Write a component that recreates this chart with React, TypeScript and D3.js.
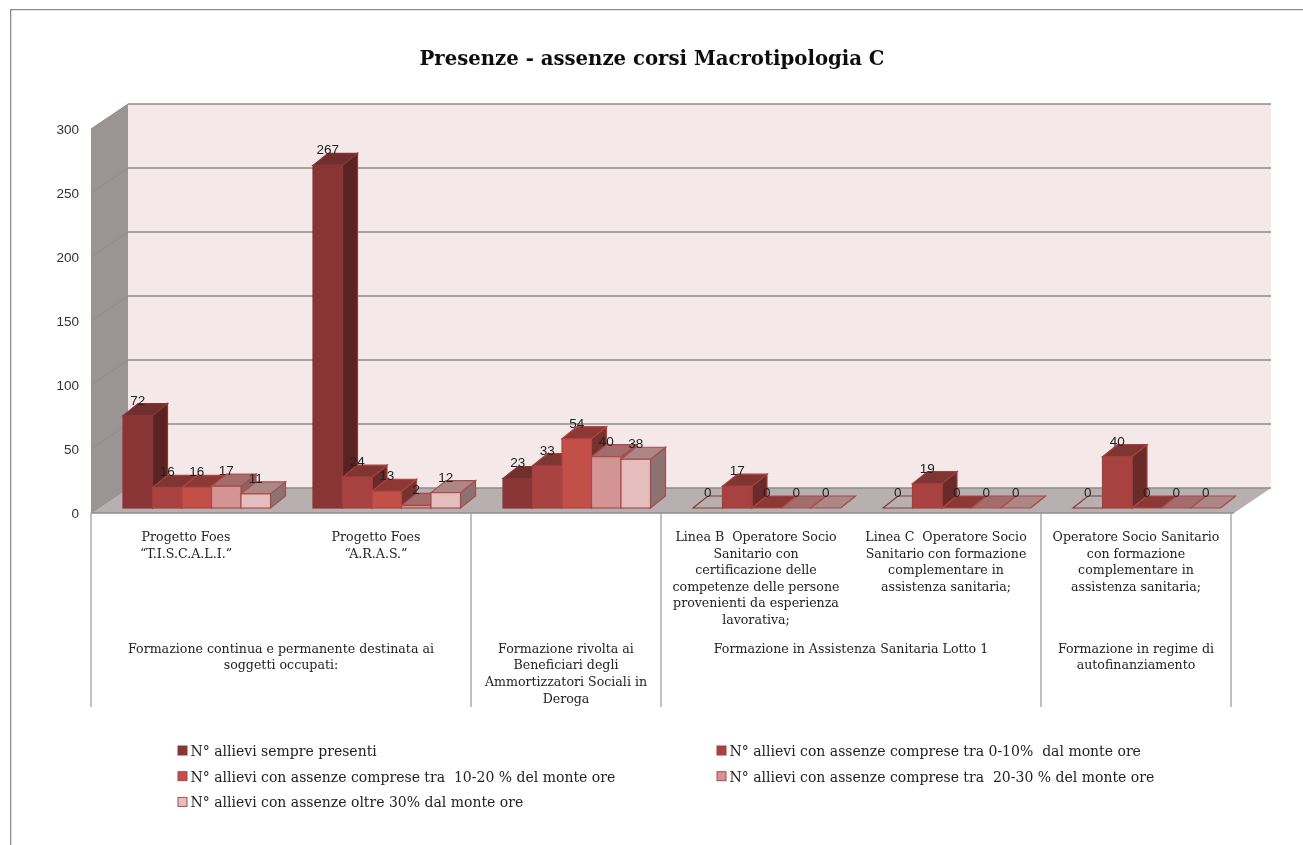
import React from "react";
import * as d3 from "d3";

const TITLE = "Presenze - assenze corsi Macrotipologia C";
const yTicks = [0, 50, 100, 150, 200, 250, 300];
const seriesNames = [
  "N° allievi sempre presenti",
  "N° allievi con assenze comprese tra 0-10%  dal monte ore",
  "N° allievi con assenze comprese tra  10-20 % del monte ore",
  "N° allievi con assenze comprese tra  20-30 % del monte ore",
  "N° allievi con assenze oltre 30% dal monte ore",
];
const series0 = [72, 267, 23, 0, 0, 0];
const series1 = [16, 24, 33, 17, 19, 40];
const series2 = [16, 13, 54, 0, 0, 0];
const series3 = [17, 2, 40, 0, 0, 0];
const series4 = [11, 12, 38, 0, 0, 0];
const allSeries = [series0, series1, series2, series3, series4];
const categoryLabels = [
  ["Progetto Foes", "“T.I.S.C.A.L.I.”"],
  ["Progetto Foes", "“A.R.A.S.”"],
  [],
  ["Linea B\u00a0\u00a0Operatore Socio", "Sanitario con", "certificazione delle", "competenze delle persone", "provenienti da esperienza", "lavorativa;"],
  ["Linea C\u00a0\u00a0Operatore Socio", "Sanitario con formazione", "complementare in", "assistenza sanitaria;"],
  ["Operatore Socio Sanitario", "con formazione", "complementare in", "assistenza sanitaria;"],
];
const groupSpans = [
  { start: 0, end: 2, lines: ["Formazione continua e permanente destinata ai", "soggetti occupati:"] },
  { start: 2, end: 3, lines: ["Formazione rivolta ai", "Beneficiari degli", "Ammortizzatori Sociali in", "Deroga"] },
  { start: 3, end: 5, lines: ["Formazione in Assistenza Sanitaria Lotto 1"] },
  { start: 5, end: 6, lines: ["Formazione in regime di", "autofinanziamento"] },
];
const frontColors = ["#8a3636", "#a84340", "#c34f4a", "#d49494", "#e6bdbd"];
const topColors = ["#702f2d", "#7f3431", "#8c3836", "#a56c6c", "#ad8686"];
const sideColors = ["#5a2422", "#6b2b29", "#76302d", "#8a6262", "#8c7272"];
const strokeColors = ["#8a3636", "#a33f3d", "#b04442", "#a84c4c", "#a84c4c"];

const SERIF = "'DejaVu Serif', serif";
const SANS = "'Liberation Sans', Arial, sans-serif";

export default function App() {
  const depthX = 37, depthY = 25;
  const barDX = 15, barDY = 12;
  const frontLeft = 91, frontRight = 1231;
  const yFront = d3.scaleLinear().domain([0, 300]).range([513, 129]);
  const yBar = d3.scaleLinear().domain([0, 300]).range([508, 123]);
  const x0 = d3.scaleBand<number>().domain(d3.range(6)).range([frontLeft, frontRight]);
  const x1 = d3.scaleBand<number>().domain(d3.range(5)).range([32, 179.5]);
  const pts = (p: number[][]) => p.map((q) => q.join(",")).join(" ");
  const wallL = frontLeft + depthX, wallR = 1271;
  const yTop = yFront(300) - depthY, yBot = yFront(0) - depthY;

  const bars = d3.range(6).flatMap((c) =>
    allSeries.map((s, i) => ({ c, i, v: s[c] }))
  );

  return (
    <svg width={1303} height={845} style={{ position: "absolute", left: 0, top: 0, display: "block" }}>
      <defs>
        <filter id="soft" x="0" y="0" width="100%" height="100%">
          <feGaussianBlur stdDeviation="0.45" />
        </filter>
      </defs>
      <rect width={1303} height={845} fill="#fff" />
      <g filter="url(#soft)">
        <path d={`M10.5,845V9.5H1303`} fill="none" stroke="#8c8c8c" strokeWidth={1.6} />
        <text x={652} y={65} textAnchor="middle" fontFamily={SERIF} fontWeight={700} fontSize={19.7} fill="#111">{TITLE}</text>

        <rect x={wallL} y={yTop} width={wallR - wallL} height={yBot - yTop} fill="#f4e8e8" />
        <polygon points={pts([[frontLeft, yFront(300)], [wallL, yTop], [wallL, yBot], [frontLeft, yFront(0)]])} fill="#9a9493" />
        <polygon points={pts([[frontLeft, yFront(0)], [wallL, yBot], [wallR, yBot], [frontRight + 3, yFront(0)]])} fill="#b8b0b0" />
        {yTicks.map((t) => (
          <g key={t}>
            <line x1={wallL} x2={wallR} y1={yFront(t) - depthY} y2={yFront(t) - depthY} stroke="#8f8c8c" strokeWidth={1.3} />
            <line x1={frontLeft} x2={wallL} y1={yFront(t)} y2={yFront(t) - depthY} stroke="#8f8c8c" strokeWidth={1} />
            <text x={79} y={yFront(t) + 5} textAnchor="end" fontFamily={SANS} fontSize={13.5} fill="#333">{t}</text>
          </g>
        ))}

        {bars.map(({ c, i, v }) => {
          const l = x0(c)! + x1(i)!, r = l + x1.bandwidth();
          const b = yBar(0), t = yBar(v);
          const stroke = strokeColors[i];
          return (
            <g key={`${c}-${i}`} stroke={stroke} strokeWidth={1.2}>
              <polygon points={pts([[r, b], [r + barDX, b - barDY], [r + barDX, t - barDY], [r, t]])} fill={sideColors[i]} />
              <polygon points={pts([[l, t], [l + barDX, t - barDY], [r + barDX, t - barDY], [r, t]])} fill={v === 0 && i === 0 ? "#b8b0b0" : topColors[i]} />
              <rect x={l} y={t} width={r - l} height={b - t} fill={frontColors[i]} />
            </g>
          );
        })}
        {bars.map(({ c, i, v }) => (
          <text key={`l${c}-${i}`} x={x0(c)! + x1(i)! + x1.bandwidth() / 2} y={yBar(v) - 11} textAnchor="middle" fontFamily={SANS} fontSize={13.5} fill="#222">{v}</text>
        ))}

        <line x1={frontLeft} x2={frontRight + 3} y1={yFront(0)} y2={yFront(0)} stroke="#8f8c8c" strokeWidth={1.5} />
        {[0, 2, 3, 5, 6].map((k) => (
          <line key={k} x1={x0.step() * k + frontLeft} x2={x0.step() * k + frontLeft} y1={yFront(0)} y2={707} stroke="#a5a5a5" strokeWidth={1.4} />
        ))}
        {categoryLabels.map((lines, c) =>
          lines.map((s, j) => (
            <text key={`${c}-${j}`} x={x0(c)! + x0.bandwidth() / 2} y={541 + j * 16.6} textAnchor="middle" fontFamily={SERIF} fontSize={12.6} fill="#222">{s}</text>
          ))
        )}
        {groupSpans.map((g) =>
          g.lines.map((s, j) => (
            <text key={`${g.start}-${j}`} x={frontLeft + x0.step() * (g.start + g.end) / 2} y={652.5 + j * 16.8} textAnchor="middle" fontFamily={SERIF} fontSize={12.6} fill="#222">{s}</text>
          ))
        )}

        {seriesNames.map((s, i) => {
          const col = i === 1 || i === 3 ? 1 : 0;
          const row = i < 2 ? 0 : i < 4 ? 1 : 2;
          const mx = col === 0 ? 178 : 717;
          const my = 746 + row * 25.7;
          return (
            <g key={s}>
              <rect x={mx} y={my} width={9} height={9} fill={frontColors[i]} stroke={strokeColors[i]} strokeWidth={1} />
              <text x={mx + 12.5} y={my + 10} xmlSpace="preserve" fontFamily={SERIF} fontSize={14} fill="#222">{s}</text>
            </g>
          );
        })}
      </g>
    </svg>
  );
}
